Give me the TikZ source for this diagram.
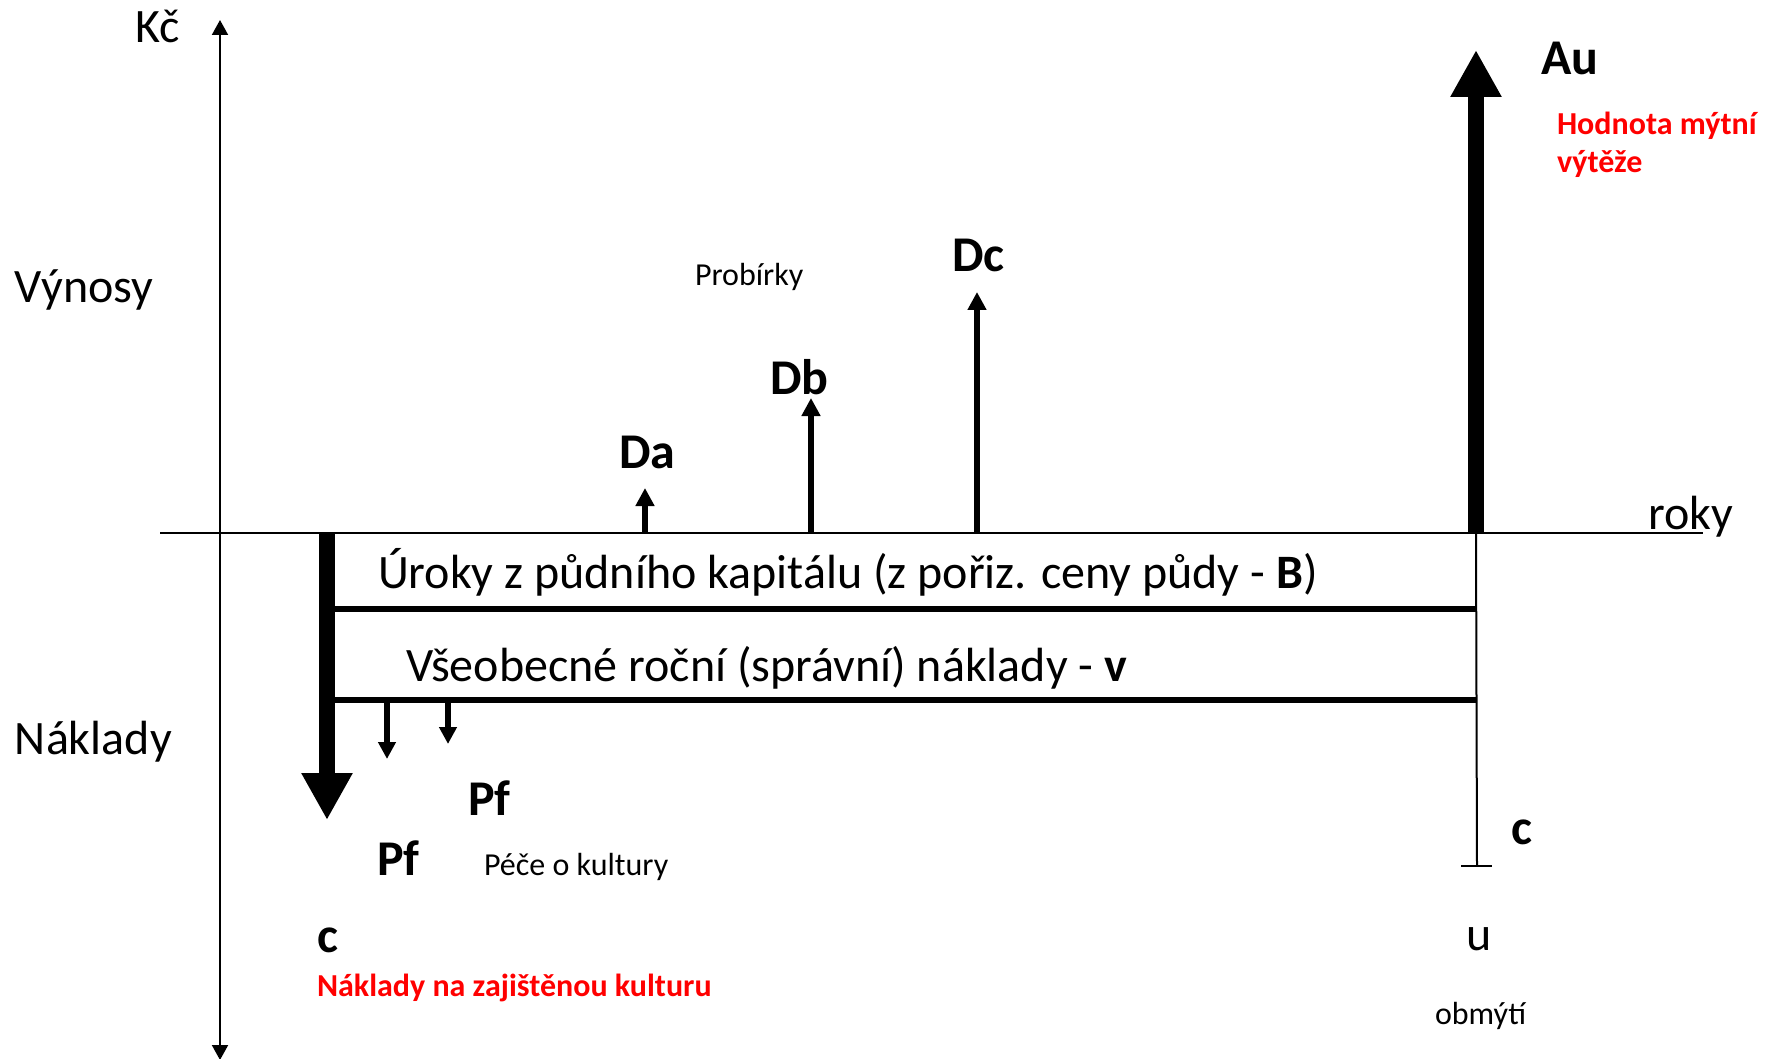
\documentclass[tikz,border=0pt]{standalone}
\usepackage{fontspec}
\setmainfont{Carlito}
\usetikzlibrary{arrows.meta}
\definecolor{redtxt}{RGB}{255,0,0}
\tikzset{
  lbl/.style={anchor=base west, inner sep=0pt, outer sep=0pt},
  big/.style={lbl, font=\fontsize{24}{28}\selectfont},
  bigb/.style={lbl, font=\fontsize{25}{29}\selectfont\bfseries},
  small/.style={lbl, font=\fontsize{16}{19}\selectfont},
  redb/.style={lbl, font=\fontsize{16}{19}\selectfont\bfseries, text=redtxt},
  axis/.style={line width=1pt, {Triangle[width=8pt,length=7.5pt]}-{Triangle[width=8pt,length=7.5pt]}},
  thin/.style={line width=1pt},
  costline/.style={line width=3pt},
  revarrow/.style={line width=2.6pt, -{Triangle[width=9pt,length=9pt]}},
  pfarrow/.style={line width=2.6pt, -{Triangle[width=8.5pt,length=8.5pt]}},
  bigarrow/.style={line width=7.8pt, -{Triangle[width=24pt,length=23.5pt]}}
}
\begin{document}
\begin{tikzpicture}[x=0.5pt,y=-0.5pt]
\useasboundingbox (0,0) rectangle (1768,1059);
% coordinates
\coordinate (ybot) at (220,1060);
\coordinate (ytop) at (220,20);
\coordinate (xl) at (160,533);
\coordinate (xr) at (1703,533);
\coordinate (cTop) at (327,533);
\coordinate (cTip) at (327,820);
\coordinate (uBase) at (1476,533);
\coordinate (uTip) at (1476,50);
\coordinate (uEnd) at (1477,866);
\coordinate (uBarL) at (1461,866);
\coordinate (uBarR) at (1492,866);
\coordinate (l1L) at (331,609);
\coordinate (l1R) at (1477,609);
\coordinate (l2L) at (331,700);
\coordinate (l2R) at (1477,700);
\coordinate (daB) at (645,533);
\coordinate (daT) at (645,488);
\coordinate (dbB) at (811,533);
\coordinate (dbT) at (811,398);
\coordinate (dcB) at (977,533);
\coordinate (dcT) at (977,292);
\coordinate (pf1B) at (387,700);
\coordinate (pf1T) at (387,759);
\coordinate (pf2B) at (448,700);
\coordinate (pf2T) at (448,744);
% axes
\draw[axis] (ybot) -- (ytop);
\draw[thin] (xl) -- (xr);
% cost lines
\draw[costline] (l1L) -- (l1R);
\draw[costline] (l2L) -- (l2R);
\draw[thin] (uBase) -- (uEnd);
\draw[thin] (uBarL) -- (uBarR);
% arrows
\draw[bigarrow] (cTop) -- (cTip);
\draw[bigarrow] (uBase) -- (uTip);
\draw[revarrow] (daB) -- (daT);
\draw[revarrow] (dbB) -- (dbT);
\draw[revarrow] (dcB) -- (dcT);
\draw[pfarrow] (pf1B) -- (pf1T);
\draw[pfarrow] (pf2B) -- (pf2T);
% labels
\node[big] (kc) at (135,43) {Kč};
\node[big] (vyn) at (15,303) {Výnosy};
\node[big] (nak) at (15,754) {Náklady};
\node[big] (roky) at (1648,529) {roky};
\node[bigb] (au) at (1541,75) {Au};
\node[redb] (hod1) at (1557,135) {Hodnota mýtní};
\node[redb] (hod2) at (1557,173) {výtěže};
\node[small] (prob) at (695,286) {Probírky};
\node[bigb] (da) at (619,468) {Da};
\node[bigb] (db) at (770,394) {Db};
\node[bigb] (dc) at (952,272) {Dc};
\node[lbl, font=\fontsize{24}{28}\selectfont] (uroky) at (378,588) {Úroky z půdního kapitálu (z pořiz. ceny půdy - \textbf{B})};
\node[lbl, font=\fontsize{24}{28}\selectfont] (vseo) at (406,681) {Všeobecné roční (správní) náklady - \textbf{v}};
\node[bigb] (pf1) at (468,815) {Pf};
\node[bigb] (pf2) at (377,875) {Pf};
\node[small] (pece) at (484,875) {Péče o kultury};
\node[bigb] (cl) at (317,952) {c};
\node[redb] (nzk) at (317,996) {Náklady na zajištěnou kulturu};
\node[bigb] (cr) at (1511,844) {c};
\node[big] (u) at (1466,950) {u};
\node[small] (obm) at (1435,1024) {obmýtí};
\end{tikzpicture}
\end{document}
